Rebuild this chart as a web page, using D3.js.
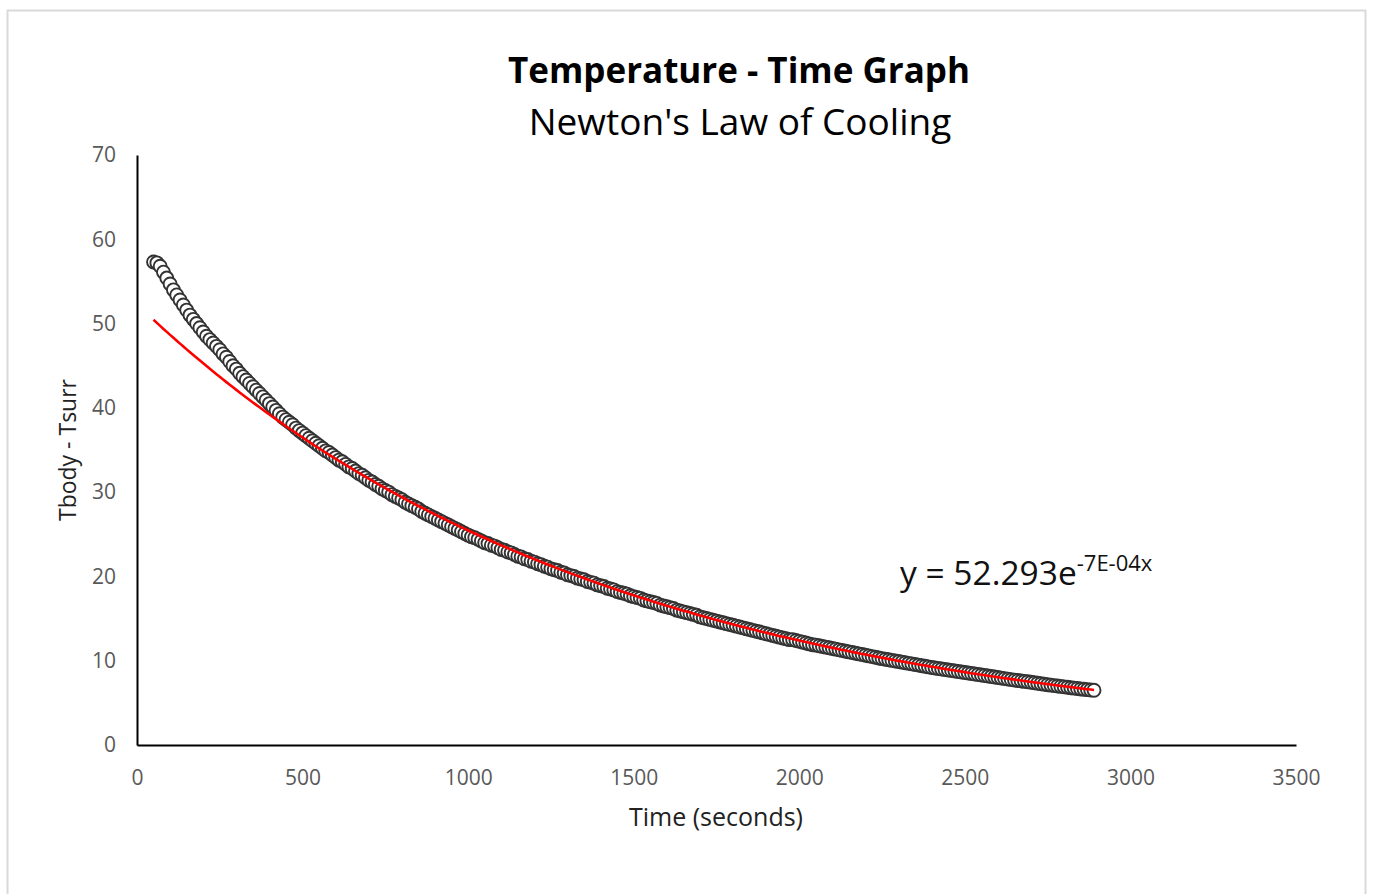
<!DOCTYPE html>
<html><head><meta charset="utf-8">
<script src="https://cdn.jsdelivr.net/npm/d3@7"></script>
<style>body{margin:0;background:#fff;} svg{display:block;}</style>
</head><body>
<svg id="chart" width="1373" height="894"></svg>
<script>
// ---------- DATA ----------
const times = [
  50,60,70,80,90,100,110,120,130,140,150,160,170,180,190,200,210,220,230,240,
  250,260,270,280,290,300,310,320,330,340,350,360,370,380,390,400,410,420,430,440,
  450,460,470,480,490,500,510,520,530,540,550,560,570,580,590,600,610,620,630,640,
  650,660,670,680,690,700,710,720,730,740,750,760,770,780,790,800,810,820,830,840,
  850,860,870,880,890,900,910,920,930,940,950,960,970,980,990,1000,1010,1020,1030,1040,
  1050,1060,1070,1080,1090,1100,1110,1120,1130,1140,1150,1160,1170,1180,1190,1200,1210,1220,1230,1240,
  1250,1260,1270,1280,1290,1300,1310,1320,1330,1340,1350,1360,1370,1380,1390,1400,1410,1420,1430,1440,
  1450,1460,1470,1480,1490,1500,1510,1520,1530,1540,1550,1560,1570,1580,1590,1600,1610,1620,1630,1640,
  1650,1660,1670,1680,1690,1700,1710,1720,1730,1740,1750,1760,1770,1780,1790,1800,1810,1820,1830,1840,
  1850,1860,1870,1880,1890,1900,1910,1920,1930,1940,1950,1960,1970,1980,1990,2000,2010,2020,2030,2040,
  2050,2060,2070,2080,2090,2100,2110,2120,2130,2140,2150,2160,2170,2180,2190,2200,2210,2220,2230,2240,
  2250,2260,2270,2280,2290,2300,2310,2320,2330,2340,2350,2360,2370,2380,2390,2400,2410,2420,2430,2440,
  2450,2460,2470,2480,2490,2500,2510,2520,2530,2540,2550,2560,2570,2580,2590,2600,2610,2620,2630,2640,
  2650,2660,2670,2680,2690,2700,2710,2720,2730,2740,2750,2760,2770,2780,2790,2800,2810,2820,2830,2840,
  2850,2860,2870,2880,2890
];
const tempDiff = [
  57.3,57.2,56.8,56.1,55.4,54.7,54.0,53.4,52.8,52.2,51.6,51.0,50.5,50.0,49.5,49.0,48.5,48.1,47.7,47.3,
  46.9,46.4,46.0,45.5,45.0,44.6,44.1,43.7,43.3,42.9,42.5,42.1,41.7,41.3,40.9,40.5,40.1,39.7,39.3,38.9,
  38.6,38.3,38.0,37.6,37.3,37.0,36.7,36.4,36.1,35.8,35.5,35.2,34.9,34.7,34.4,34.1,33.8,33.6,33.3,33.0,
  32.8,32.5,32.2,32.0,31.7,31.4,31.2,30.9,30.7,30.4,30.2,30.0,29.7,29.5,29.3,29.1,28.8,28.6,28.4,28.2,
  28.0,27.7,27.5,27.3,27.1,26.9,26.7,26.5,26.3,26.1,25.9,25.7,25.5,25.3,25.1,24.9,24.7,24.6,24.4,24.2,
  24.0,23.9,23.7,23.6,23.4,23.2,23.1,22.9,22.8,22.6,22.4,22.3,22.1,22.0,21.8,21.7,21.5,21.4,21.2,21.1,
  20.9,20.8,20.7,20.5,20.4,20.2,20.1,20.0,19.8,19.7,19.6,19.4,19.3,19.2,19.0,18.9,18.8,18.6,18.5,18.4,
  18.2,18.1,18.0,17.9,17.7,17.6,17.5,17.4,17.2,17.1,17.0,16.9,16.8,16.6,16.5,16.4,16.3,16.2,16.0,15.9,
  15.8,15.7,15.6,15.5,15.4,15.2,15.1,15.0,14.9,14.8,14.7,14.6,14.5,14.4,14.3,14.2,14.1,14.0,13.9,13.8,
  13.7,13.6,13.5,13.4,13.3,13.2,13.1,13.0,12.9,12.8,12.7,12.6,12.5,12.5,12.4,12.3,12.2,12.1,12.0,11.9,
  11.85,11.77,11.69,11.61,11.53,11.45,11.37,11.29,11.21,11.13,11.05,10.97,10.89,10.81,10.73,10.65,10.57,10.49,10.41,10.33,
  10.25,10.18,10.11,10.04,9.97,9.9,9.83,9.76,9.69,9.62,9.55,9.48,9.41,9.34,9.27,9.2,9.14,9.08,9.02,8.96,
  8.9,8.84,8.78,8.72,8.66,8.6,8.54,8.48,8.42,8.36,8.3,8.24,8.18,8.12,8.06,8.0,7.94,7.88,7.82,7.76,
  7.7,7.65,7.6,7.55,7.5,7.45,7.39,7.33,7.27,7.21,7.15,7.1,7.05,7.0,6.95,6.9,6.85,6.8,6.75,6.7,
  6.65,6.61,6.57,6.53,6.5
];
const xTicks = [0,500,1000,1500,2000,2500,3000,3500];
const yTicks = [0,10,20,30,40,50,60,70];
// exponential trendline parameters (label shows rounded exponent)
const trendA = 52.293;
const trendK = -0.00072;
const titleText = "Temperature - Time Graph";
const subtitleText = "Newton's Law of Cooling";
const xTitle = "Time (seconds)";
const yTitle = "Tbody - Tsurr";
const eqMain = "y = 52.293e";
const eqSup = "-7E-04x";

// ---------- DRAW ----------
const svg = d3.select("#chart");
const font = "'Open Sans', sans-serif";

svg.append("rect").attr("x",7.5).attr("y",10.5).attr("width",1358).attr("height",900)
  .attr("fill","#fff").attr("stroke","#d9d9d9").attr("stroke-width",2);

const x = d3.scaleLinear().domain([0,3500]).range([137,1296]);
const y = d3.scaleLinear().domain([0,70]).range([745,155]);

// axes
const xAxis = svg.append("g").attr("transform",`translate(0,${y(0)})`)
  .call(d3.axisBottom(x).tickValues(xTicks).tickSize(0).tickSizeOuter(0).tickPadding(25).tickFormat(d3.format("d")));
const yAxis = svg.append("g").attr("transform",`translate(${x(0)},0)`)
  .call(d3.axisLeft(y).tickValues(yTicks).tickSize(0).tickSizeOuter(0).tickPadding(21).tickFormat(d3.format("d")));
[xAxis,yAxis].forEach(g=>{
  g.select(".domain").attr("stroke","#000").attr("stroke-width",2);
  g.selectAll("text").attr("font-family",font).attr("font-size",21).attr("fill","#595959");
});

// data markers
const pts = times.map((t,i)=>({t, v: tempDiff[i]}));
svg.append("g").selectAll("circle").data(pts).join("circle")
  .attr("cx",d=>x(d.t)).attr("cy",d=>y(d.v)).attr("r",6.5)
  .attr("fill","#fff").attr("stroke","#333").attr("stroke-width",1.9);

// trendline
const line = d3.line().x(d=>x(d.t)).y(d=>y(d.v));
const trendPts = times.map(t=>({t, v: trendA*Math.exp(trendK*t)}));
svg.append("path").datum(trendPts).attr("d",line)
  .attr("fill","none").attr("stroke","#ff0000").attr("stroke-width",2.6);

// titles
svg.append("text").attr("x",739).attr("y",83).attr("text-anchor","middle")
  .attr("font-family",font).attr("font-weight","bold").attr("font-size",35).attr("fill","#000").text(titleText);
svg.append("text").attr("x",740).attr("y",135).attr("text-anchor","middle")
  .attr("font-family",font).attr("font-size",37).attr("fill","#000").text(subtitleText);
svg.append("text").attr("x",716).attr("y",826).attr("text-anchor","middle")
  .attr("font-family",font).attr("font-size",25).attr("fill","#222").text(xTitle);
svg.append("text").attr("transform","translate(76,450) rotate(-90)").attr("text-anchor","middle")
  .attr("font-family",font).attr("font-size",23).attr("fill","#222").text(yTitle);

// equation
const eq = svg.append("text").attr("x",900).attr("y",585)
  .attr("font-family",font).attr("font-size",33.5).attr("fill","#111");
eq.append("tspan").text(eqMain);
eq.append("tspan").attr("dy",-14).attr("font-size",22).text(eqSup);
</script>
</body></html>
